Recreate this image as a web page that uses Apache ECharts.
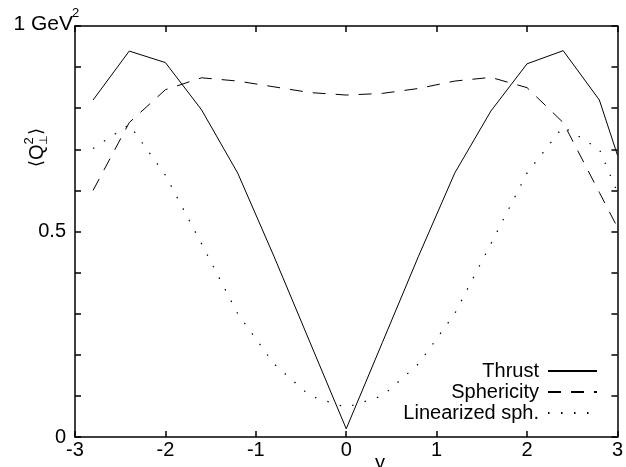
<!DOCTYPE html>
<html>
<head>
<meta charset="utf-8">
<script src="https://cdn.jsdelivr.net/npm/echarts@6/dist/echarts.min.js"></script>
<style>
  html, body { margin: 0; padding: 0; background: #fff; }
  #chart { width: 626px; height: 467px; }
</style>
</head>
<body>
<div id="chart"></div>
<script>
// rapidity bins
var yBins = [-2.8, -2.4, -2.0, -1.6, -1.2, -0.8, -0.4, 0, 0.4, 0.8, 1.2, 1.6, 2.0, 2.4, 2.8, 3.0];
// <Q_T^2> in GeV^2
var thrust     = [0.82, 0.939, 0.911, 0.796, 0.642, 0.44, 0.23, 0.02, 0.23, 0.44, 0.642, 0.793, 0.908, 0.94, 0.82, 0.686];
var sphericity = [0.60, 0.765, 0.845, 0.874, 0.866, 0.852, 0.838, 0.832, 0.836, 0.848, 0.866, 0.875, 0.85, 0.765, 0.595, 0.51];
var linearized = [0.702, 0.76, 0.637, 0.47, 0.30, 0.178, 0.10, 0.072, 0.10, 0.178, 0.30, 0.47, 0.642, 0.755, 0.70, 0.595];
var seriesNames = ['Thrust', 'Sphericity', 'Linearized sph.'];
var yLabels = { '0': '0', '0.5': '0.5' };

var font = '"Liberation Sans", Arial, Helvetica, sans-serif';

var pairs = function (vals) {
    var out = [];
    for (var i = 0; i < yBins.length; i++) {
        out.push([yBins[i], vals[i]]);
    }
    return out;
};

var frame = function () {
    return { show: true, onZero: false, lineStyle: { color: '#000', width: 1.5 } };
};
var tick = function () {
    return { show: true, inside: true, length: 6, interval: 0, lineStyle: { color: '#000', width: 1.5 } };
};

var chart = echarts.init(document.getElementById('chart'), null, { renderer: 'canvas' });

var option = {
    animation: false,
    backgroundColor: '#fff',
    grid: { left: 75, right: 6, top: 26, bottom: 30 },
    legend: {
        orient: 'vertical',
        align: 'right',
        right: 28,
        top: 361,
        itemWidth: 49,
        itemHeight: 14,
        itemGap: 1,
        padding: 0,
        itemStyle: { color: 'rgba(0,0,0,0)', borderWidth: 0, opacity: 0 },
        textStyle: { fontFamily: font, fontSize: 20, color: '#000', padding: [0, 4, 0, 0], lineHeight: 20 },
        data: seriesNames
    },
    xAxis: [
        {
            type: 'value', min: -3, max: 3, interval: 1,
            axisLine: frame(), axisTick: tick(), splitLine: { show: false },
            axisLabel: { fontFamily: font, fontSize: 20, color: '#000', margin: 3 }
        },
        {
            type: 'value', position: 'top', min: -3, max: 3, interval: 1,
            axisLine: frame(), axisTick: tick(), splitLine: { show: false },
            axisLabel: { show: false }
        }
    ],
    yAxis: [
        {
            type: 'value', min: 0, max: 1, interval: 0.1,
            axisLine: frame(), axisTick: tick(), splitLine: { show: false },
            axisLabel: {
                fontFamily: font, fontSize: 20, color: '#000', margin: 9,
                formatter: function (v) {
                    var k = String(Math.round(v * 10) / 10);
                    return yLabels[k] || '';
                }
            }
        },
        {
            type: 'value', position: 'right', min: 0, max: 1, interval: 0.1,
            axisLine: frame(), axisTick: tick(), splitLine: { show: false },
            axisLabel: { show: false }
        }
    ],
    series: [
        {
            name: seriesNames[0], type: 'line', symbol: 'none', data: pairs(thrust),
            lineStyle: { color: '#000', width: 1, type: 'solid' }, itemStyle: { color: '#000' }
        },
        {
            name: seriesNames[1], type: 'line', symbol: 'none', data: pairs(sphericity),
            lineStyle: { color: '#000', width: 1, type: [13, 10] }, itemStyle: { color: '#000' }
        },
        {
            name: seriesNames[2], type: 'line', symbol: 'none', data: pairs(linearized),
            lineStyle: { color: '#000', width: 1.2, type: [1.5, 11.5] }, itemStyle: { color: '#000' }
        }
    ],
    graphic: [
        {
            type: 'text', right: 626 - 73, top: 14,
            style: { text: '1 GeV', fontFamily: font, fontSize: 21, fill: '#000' }
        },
        {
            type: 'text', left: 72, top: 7,
            style: { text: '2', fontFamily: font, fontSize: 13, fill: '#000' }
        },
        {
            type: 'text', left: 375, top: 453,
            style: { text: 'y', fontFamily: font, fontSize: 20, fill: '#000' }
        },
        {
            type: 'group', x: 37, y: 146, rotation: Math.PI / 2,
            children: [
                { type: 'text', x: -21, y: 0, style: { text: '\u27E8', fontFamily: '"DejaVu Sans", sans-serif', fontSize: 18, fill: '#000', align: 'left', verticalAlign: 'middle' } },
                { type: 'text', x: -14, y: 0, style: { text: 'Q', fontFamily: font, fontSize: 20, fill: '#000', align: 'left', verticalAlign: 'middle' } },
                { type: 'text', x: 1.5, y: -8, style: { text: '2', fontFamily: font, fontSize: 13, fill: '#000', align: 'left', verticalAlign: 'middle' } },
                { type: 'text', x: 1, y: 7, style: { text: '\u22A5', fontFamily: '"DejaVu Sans", sans-serif', fontSize: 11, fill: '#000', align: 'left', verticalAlign: 'middle' } },
                { type: 'text', x: 11, y: 0, style: { text: '\u27E9', fontFamily: '"DejaVu Sans", sans-serif', fontSize: 18, fill: '#000', align: 'left', verticalAlign: 'middle' } }
            ]
        }
    ]
};

chart.setOption(option);
</script>
</body>
</html>
